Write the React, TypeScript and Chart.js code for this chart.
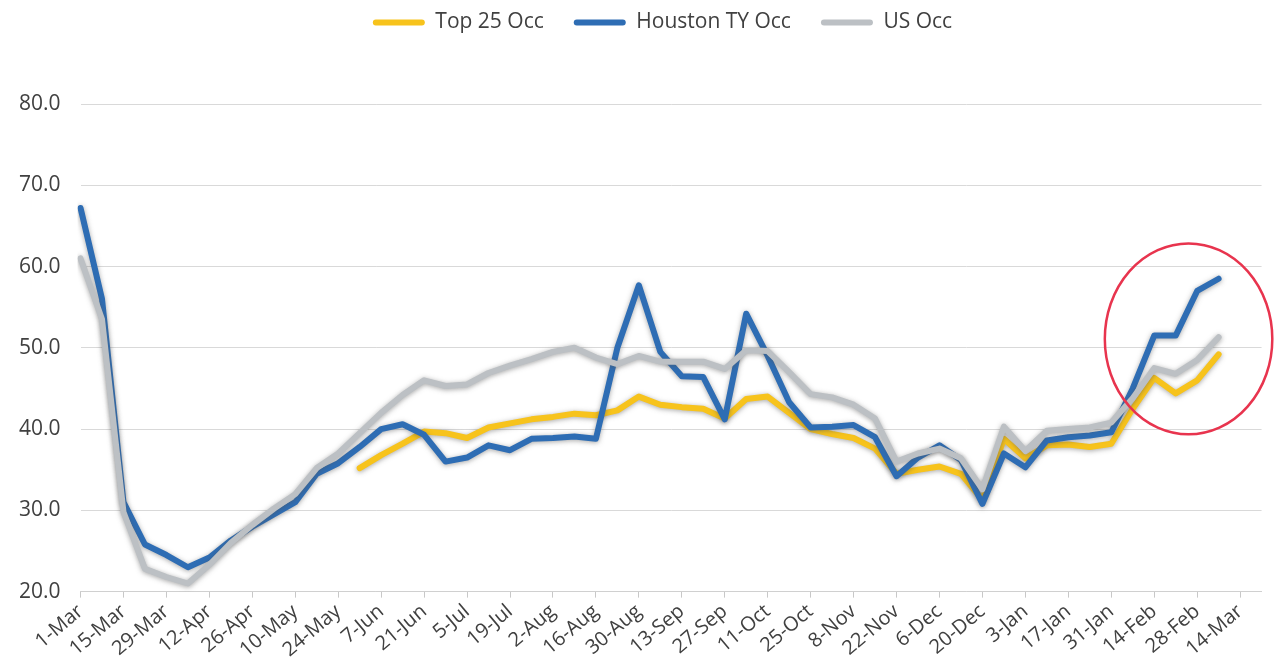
import React, { useEffect, useRef } from "react";
import { Chart, registerables } from "chart.js";

Chart.register(...registerables);

// Weekly categories (1-Mar .. 21-Mar of the following year); every other one is labelled
const weekLabels: string[] = [
  "1-Mar", "8-Mar", "15-Mar", "22-Mar", "29-Mar", "5-Apr", "12-Apr", "19-Apr",
  "26-Apr", "3-May", "10-May", "17-May", "24-May", "31-May", "7-Jun", "14-Jun",
  "21-Jun", "28-Jun", "5-Jul", "12-Jul", "19-Jul", "26-Jul", "2-Aug", "9-Aug",
  "16-Aug", "23-Aug", "30-Aug", "6-Sep", "13-Sep", "20-Sep", "27-Sep", "4-Oct",
  "11-Oct", "18-Oct", "25-Oct", "1-Nov", "8-Nov", "15-Nov", "22-Nov", "29-Nov",
  "6-Dec", "13-Dec", "20-Dec", "27-Dec", "3-Jan", "10-Jan", "17-Jan", "24-Jan",
  "31-Jan", "7-Feb", "14-Feb", "21-Feb", "28-Feb", "7-Mar", "14-Mar", "21-Mar",
];

const top25Occ: (number | null)[] = [
  null, null, null, null, null, null, null, null, null, null, // 0-9
  null, null, null, 35.2, 36.8, 38.2, 39.7, 39.5, 38.9, 40.2, // 10-19
  40.7, 41.2, 41.5, 41.9, 41.7, 42.3, 44.0, 43.0, 42.7, 42.5, // 20-29
  41.3, 43.7, 44.0, 42.0, 40.0, 39.4, 38.9, 37.6, 34.5, 35.0, // 30-39
  35.4, 34.5, 31.3, 38.8, 36.4, 38.0, 38.1, 37.8, 38.2, 42.5, // 40-49
  46.3, 44.4, 46.0, 49.2, // 50-53
];

const houstonOcc: number[] = [
  67.2, 56.0, 31.0, 25.8, 24.5, 23.0, 24.2, 26.3, 28.0, 29.5, // 0-9
  31.0, 34.5, 35.8, 37.8, 40.0, 40.6, 39.3, 36.0, 36.5, 38.0, // 10-19
  37.4, 38.8, 38.9, 39.1, 38.8, 50.0, 57.7, 49.5, 46.5, 46.4, // 20-29
  41.2, 54.2, 49.0, 43.3, 40.2, 40.3, 40.5, 39.0, 34.2, 36.5, // 30-39
  38.0, 36.2, 30.8, 37.0, 35.3, 38.6, 39.0, 39.2, 39.6, 45.0, // 40-49
  51.5, 51.5, 57.0, 58.5, // 50-53
];

const usOcc: number[] = [
  61.0, 53.5, 29.8, 22.8, 21.8, 21.0, 23.3, 26.0, 28.2, 30.2, // 0-9
  32.0, 35.2, 37.0, 39.5, 42.0, 44.2, 46.0, 45.3, 45.5, 46.9, // 10-19
  47.8, 48.6, 49.5, 50.0, 48.8, 48.0, 49.0, 48.3, 48.3, 48.3, // 20-29
  47.4, 49.7, 49.6, 47.0, 44.3, 43.9, 43.0, 41.3, 36.0, 37.0, // 30-39
  37.6, 36.4, 32.6, 40.3, 37.3, 39.8, 40.0, 40.2, 40.8, 43.8, // 40-49
  47.5, 46.8, 48.5, 51.3, // 50-53
];

const seriesNames = ["Top 25 Occ", "Houston TY Occ", "US Occ"];
const seriesColors = ["#F7C31C", "#2E6DB4", "#BCC0C4"];

// Hand-drawn highlight ellipse (in data units)
const circleCenter = { index: 51.6, value: 51.1 };
const circleRadius = { weeks: 3.9, value: 11.75 };

const FONT = "'Open Sans', 'DejaVu Sans', sans-serif";
const LEGEND_SHIFT = 32;

export default function App() {
  const canvasRef = useRef<HTMLCanvasElement | null>(null);

  useEffect(() => {
    document.body.style.margin = "0";
    const canvas = canvasRef.current;
    if (!canvas) return;

    const legendSpacer = {
      id: "legendSpacer",
      beforeInit(chart: any) {
        const origFit = chart.legend.fit;
        chart.legend.fit = function fit() {
          origFit.bind(chart.legend)();
          this.height += 61;
        };
      },
      afterLayout(chart: any) {
        if (chart.legend) {
          chart.legend.left += LEGEND_SHIFT;
          chart.legend.right += LEGEND_SHIFT;
        }
      },
    };

    const lineShadow = {
      id: "lineShadow",
      beforeDatasetDraw(chart: any) {
        const ctx = chart.ctx;
        ctx.save();
        ctx.shadowColor = "rgba(80,80,80,0.5)";
        ctx.shadowBlur = 5;
        ctx.shadowOffsetX = 0;
        ctx.shadowOffsetY = 1;
      },
      afterDatasetDraw(chart: any) {
        chart.ctx.restore();
      },
    };

    const highlight = {
      id: "highlight",
      afterDraw(chart: any) {
        const x = chart.scales.x;
        const y = chart.scales.y;
        const cx = x.getPixelForValue(circleCenter.index);
        const cy = y.getPixelForValue(circleCenter.value);
        const rx = Math.abs(
          x.getPixelForValue(circleCenter.index + circleRadius.weeks) - cx
        );
        const ry = Math.abs(
          y.getPixelForValue(circleCenter.value + circleRadius.value) - cy
        );
        const ctx = chart.ctx;
        ctx.save();
        ctx.beginPath();
        ctx.ellipse(cx, cy, rx, ry, 0, 0, Math.PI * 2);
        ctx.strokeStyle = "#E8344E";
        ctx.lineWidth = 2.5;
        ctx.stroke();
        ctx.restore();
      },
    };

    const datasets = [top25Occ, houstonOcc, usOcc].map((data, i) => ({
      label: seriesNames[i],
      data,
      borderColor: seriesColors[i],
      backgroundColor: seriesColors[i],
      borderWidth: 6,
      pointRadius: 0,
      pointHoverRadius: 0,
      tension: 0,
      fill: false,
      spanGaps: false,
      borderJoinStyle: "round" as const,
      borderCapStyle: "round" as const,
      order: 2 - i,
    }));

    const chart = new Chart(canvas, {
      type: "line",
      data: { labels: weekLabels, datasets },
      plugins: [legendSpacer, lineShadow, highlight],
      options: {
        animation: false,
        responsive: true,
        maintainAspectRatio: false,
        layout: { padding: { top: -18, left: -1, right: 17, bottom: 8 } },
        plugins: {
          tooltip: { enabled: false },
          legend: {
            position: "top",
            fullSize: true,
            labels: {
              font: { family: FONT, size: 21 },
              color: "#404040",
              boxWidth: 52,
              boxHeight: 6,
              padding: 30,
              useBorderRadius: true,
              borderRadius: 3,
              sort: (a: any, b: any) => a.datasetIndex - b.datasetIndex,
              generateLabels: (ch: any) =>
                (Chart.defaults.plugins.legend.labels as any)
                  .generateLabels(ch)
                  .map((l: any) => ({
                    ...l,
                    lineWidth: 0,
                    fillStyle: seriesColors[l.datasetIndex],
                    strokeStyle: seriesColors[l.datasetIndex],
                  })),
            },
          },
        },
        scales: {
          x: {
            type: "category",
            offset: false,
            grid: {
              drawOnChartArea: false,
              drawTicks: true,
              tickLength: 6,
              color: (ctx: any) =>
                ctx.index % 2 === 0 ? "#C8C8C8" : "rgba(0,0,0,0)",
            },
            border: { display: true, color: "#D0D0D0", width: 1 },
            ticks: {
              autoSkip: false,
              minRotation: 40,
              maxRotation: 40,
              padding: 2,
              color: "#404040",
              font: { family: FONT, size: 20 },
              callback: (_v: any, idx: number) =>
                idx % 2 === 0 ? weekLabels[idx] : "",
            },
          },
          y: {
            min: 20,
            max: 80,
            border: { display: false },
            grid: { color: "#D9D9D9", lineWidth: 1, drawTicks: false },
            ticks: {
              stepSize: 10,
              padding: 20,
              color: "#404040",
              font: { family: FONT, size: 21 },
              callback: (v: any) => Number(v).toFixed(1),
            },
          },
        },
      },
    });

    return () => chart.destroy();
  }, []);

  return (
    <div style={{ position: "relative", width: 1279, height: 672 }}>
      <canvas ref={canvasRef} />
    </div>
  );
}
